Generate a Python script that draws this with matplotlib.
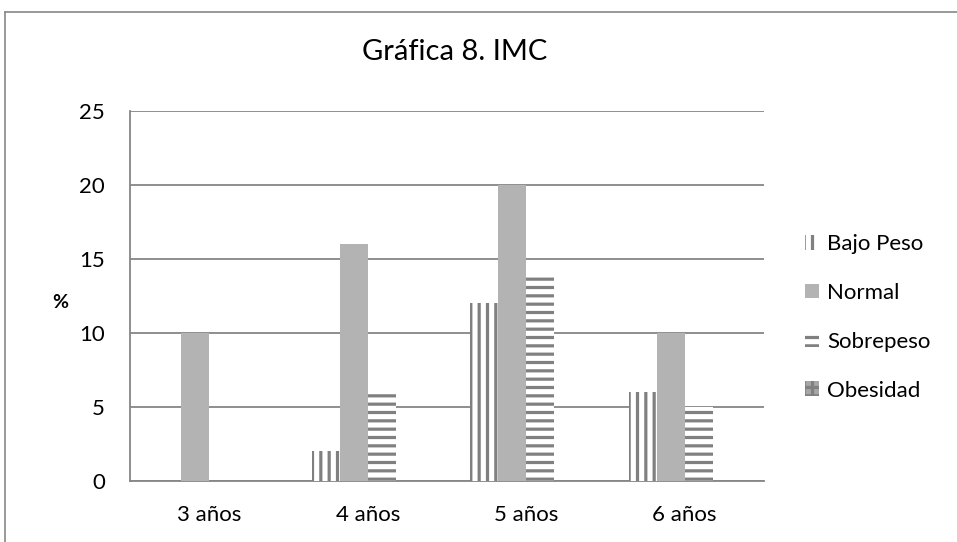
import matplotlib
matplotlib.use("Agg")
import matplotlib.pyplot as plt
import numpy as np
from matplotlib.patches import Patch
from matplotlib.lines import Line2D

plt.rcParams['font.family'] = ['Lato', 'DejaVu Sans']
plt.rcParams['hatch.linewidth'] = 2.3

categories = ["3 años", "4 años", "5 años", "6 años"]
series = ["Bajo Peso", "Normal", "Sobrepeso", "Obesidad"]
bajo_peso = [0, 2, 12, 6]
normal = [10, 16, 20, 10]
sobrepeso = [0, 6, 14, 5]
obesidad = [0, 0, 0, 0]
yticks = [0, 5, 10, 15, 20, 25]

values = [bajo_peso, normal, sobrepeso, obesidad]
facecolors = ["white", "#b3b3b3", "white", "#a6a6a6"]
hatches = ["||", None, "--", "++"]
edgecolors = ["#808080", "#b3b3b3", "#808080", "#808080"]

fig = plt.figure(figsize=(9.57, 5.42), dpi=100)
ax = fig.add_axes([130/957, 1-481/542, (764-130)/957, (481-111)/542])

x = np.arange(len(categories))
w = 28/158.5
offsets = [-1.5, -0.5, 0.5, 1.5]
for vals, fc, h, ec, off, name in zip(values, facecolors, hatches, edgecolors, offsets, series):
    ax.bar(x + off*w, vals, width=w, color=fc, hatch=h, edgecolor=ec, linewidth=0, label=name, zorder=3)

ax.set_xlim(-0.5, len(categories)-0.5)
ax.set_ylim(0, 25)
ax.set_yticks(yticks)
ax.set_xticks(x)
ax.set_xticklabels(categories)
ax.tick_params(axis='both', length=0, labelsize=16, colors='black')
ax.tick_params(axis='x', pad=17)
ax.tick_params(axis='y', pad=18)
ax.yaxis.grid(True, color='#868686', linewidth=1.3, zorder=0)
ax.set_axisbelow(True)
for s in ['top', 'right']:
    ax.spines[s].set_visible(False)
for s in ['left', 'bottom']:
    ax.spines[s].set_color('#868686')
    ax.spines[s].set_linewidth(1.3)

fig.text(60/957, 1-302/542, "%", fontsize=14, fontweight='bold', ha='center', va='center')
fig.text(455/957, 1-52/542, "Gráfica 8. IMC", fontsize=21, ha='center', va='center')

handles = [Patch(facecolor=fc, hatch=h, edgecolor=ec, linewidth=0) for fc, h, ec in zip(facecolors, hatches, edgecolors)]
leg = fig.legend(handles, series, loc='upper left', bbox_to_anchor=(805/957, 1-234/542),
                 frameon=False, fontsize=16, handlelength=0.65, handleheight=0.65,
                 handletextpad=0.35, labelspacing=1.3, borderpad=0, borderaxespad=0)

fig.add_artist(Line2D([5/957, 1], [1-12/542, 1-12/542], color='#888888', linewidth=1.2, transform=fig.transFigure))
fig.add_artist(Line2D([5/957, 5/957], [0, 1-12/542], color='#888888', linewidth=1.2, transform=fig.transFigure))

fig.savefig("out.png", dpi=100)
